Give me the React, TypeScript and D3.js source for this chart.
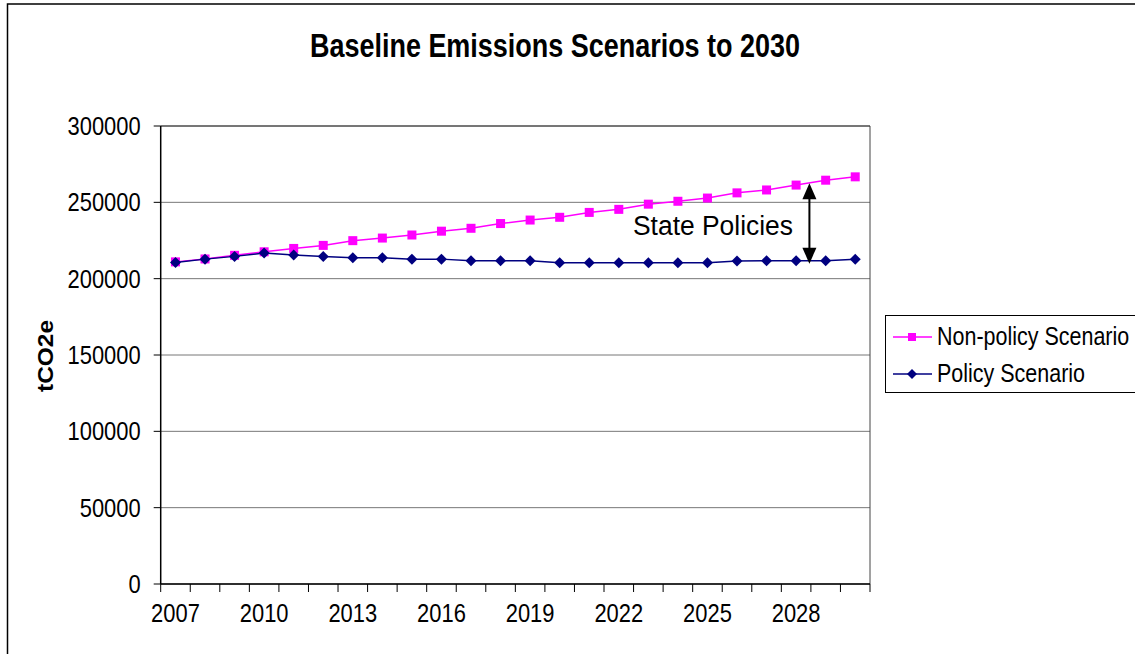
import React from 'react';
import * as d3 from 'd3';

// years on the category axis
const years = d3.range(2007, 2031);
const yearLabels = [2007, 2010, 2013, 2016, 2019, 2022, 2025, 2028];

// series values (tCO2e)
const nonPolicy = [
  211000, 212900, 215300, 217600, 219800, 221800, 224900, 226600, 228600, 231100, 233000, 236100,
  238400, 240200, 243400, 245400, 248800, 250700, 252800, 256200, 258100, 261300, 264500, 266700,
];
const policy = [
  210600, 212800, 214600, 216800, 215500, 214500, 213700, 213700, 212800, 212800, 211700, 211700,
  211700, 210500, 210500, 210500, 210500, 210500, 210500, 211600, 211700, 211700, 211700, 212700,
];
const yTicks = [0, 50000, 100000, 150000, 200000, 250000, 300000];

// annotation: arrow between the two scenarios
const arrowYear = 2028.45;
const arrowTop = 262500;
const arrowBottom = 209800;

const W = 1135;
const H = 654;
const font = '"Liberation Sans", Arial, sans-serif';

// excel-ish text is a bit condensed, so squeeze the glyphs horizontally
const charW = 12.2;

export default function App() {
  const left = 160.7;
  const right = 870;
  const top = 126;
  const bottom = 584;

  const x = d3.scaleBand<number>().domain(years).range([left, right]);
  const cx = (yr: number) => (x(yr) as number) + x.bandwidth() / 2;
  const xLin = d3.scaleLinear().domain([2007, 2030]).range([cx(2007), cx(2030)]);
  const y = d3.scaleLinear().domain([0, 300000]).range([bottom, top]);

  const line = d3
    .line<number>()
    .x((_, i) => cx(years[i]))
    .y((d) => y(d));

  const boundaries = years.map((yr) => x(yr) as number).concat([right]);

  const diamond = (px: number, py: number, r: number) =>
    `M${px},${py - r}L${px + r},${py}L${px},${py + r}L${px - r},${py}Z`;

  const ax = xLin(arrowYear);
  const ay1 = y(arrowTop);
  const ay2 = y(arrowBottom);

  return (
    <svg
      width={W}
      height={H}
      style={{ position: 'absolute', left: 0, top: 0, background: '#fff' }}
      fontFamily={font}
    >
      {/* outer frame */}
      <rect x={7.5} y={4} width={W + 20} height={H + 20} fill="none" stroke="#000" strokeWidth={1.5} />

      <text
        x={555}
        y={57}
        textAnchor="middle"
        fontSize={33}
        fontWeight="bold"
        textLength={490}
        lengthAdjust="spacingAndGlyphs"
      >
        Baseline Emissions Scenarios to 2030
      </text>

      {/* gridlines */}
      {yTicks.map((t) => (
        <line key={'g' + t} x1={left} x2={right} y1={y(t)} y2={y(t)} stroke="#777" strokeWidth={1} />
      ))}
      {/* plot frame */}
      <line x1={right} x2={right} y1={top} y2={bottom} stroke="#444" strokeWidth={1} />
      <line x1={left} x2={right} y1={top} y2={top} stroke="#333" strokeWidth={1} />

      {/* axes */}
      <line x1={left} x2={left} y1={top} y2={bottom} stroke="#000" strokeWidth={1.5} />
      <line x1={left} x2={right} y1={bottom} y2={bottom} stroke="#000" strokeWidth={1.5} />
      {yTicks.map((t) => (
        <g key={'yt' + t}>
          <line x1={left - 7} x2={left} y1={y(t)} y2={y(t)} stroke="#000" />
          <text
            x={left - 20}
            y={y(t) + 9}
            textAnchor="end"
            fontSize={25}
            textLength={String(t).length * charW}
            lengthAdjust="spacingAndGlyphs"
          >
            {t}
          </text>
        </g>
      ))}
      {boundaries.map((b, i) => (
        <line key={'xt' + i} x1={b} x2={b} y1={bottom} y2={bottom + 8} stroke="#000" />
      ))}
      {yearLabels.map((yr) => (
        <text
          key={'xl' + yr}
          x={cx(yr)}
          y={622}
          textAnchor="middle"
          fontSize={25}
          textLength={4 * charW}
          lengthAdjust="spacingAndGlyphs"
        >
          {yr}
        </text>
      ))}

      <text
        transform={`translate(53,356) rotate(-90)`}
        textAnchor="middle"
        fontSize={22}
        fontWeight="bold"
        textLength={72}
        lengthAdjust="spacingAndGlyphs"
      >
        tCO2e
      </text>

      {/* series */}
      <path d={line(nonPolicy) || ''} fill="none" stroke="#FF00FF" strokeWidth={1.5} />
      {nonPolicy.map((v, i) => (
        <rect key={'np' + i} x={cx(years[i]) - 4.5} y={y(v) - 4.5} width={9} height={9} fill="#FF00FF" />
      ))}
      <path d={line(policy) || ''} fill="none" stroke="#000080" strokeWidth={1.5} />
      {policy.map((v, i) => (
        <path key={'p' + i} d={diamond(cx(years[i]), y(v), 5.5)} fill="#000080" />
      ))}

      {/* annotation */}
      <line x1={ax} x2={ax} y1={ay1 + 14} y2={ay2 - 14} stroke="#000" strokeWidth={2} />
      <path d={`M${ax},${ay1}L${ax - 7},${ay1 + 16}L${ax + 7},${ay1 + 16}Z`} fill="#000" />
      <path d={`M${ax},${ay2}L${ax - 7},${ay2 - 16}L${ax + 7},${ay2 - 16}Z`} fill="#000" />
      <text x={713} y={235} textAnchor="middle" fontSize={27} textLength={160} lengthAdjust="spacingAndGlyphs">
        State Policies
      </text>

      {/* legend */}
      <rect x={885.5} y={315.5} width={270} height={77} fill="#fff" stroke="#000" strokeWidth={1} />
      <line x1={893} x2={932} y1={337} y2={337} stroke="#FF00FF" strokeWidth={1.5} />
      <rect x={908} y={333} width={8} height={8} fill="#FF00FF" />
      <text transform="translate(937,345) scale(0.86,1)" fontSize={25}>
        Non-policy Scenario
      </text>
      <line x1={893} x2={932} y1={374} y2={374} stroke="#000080" strokeWidth={1.5} />
      <path d={diamond(912, 374, 5)} fill="#000080" />
      <text transform="translate(937,382) scale(0.86,1)" fontSize={25}>
        Policy Scenario
      </text>
    </svg>
  );
}
